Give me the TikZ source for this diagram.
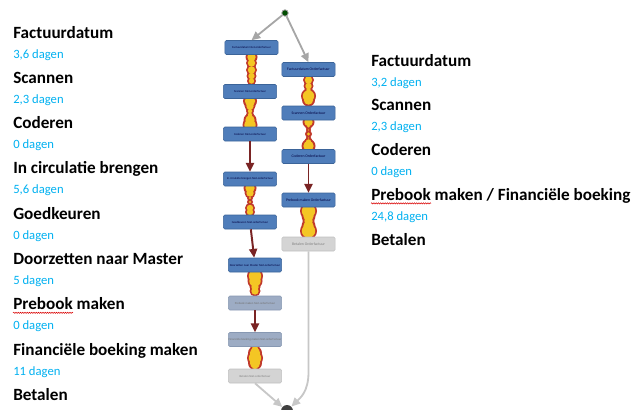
\documentclass[tikz,border=0pt]{standalone}
\usepackage{fontspec}
\setmainfont{Carlito}
\usepackage{tikz}
\usetikzlibrary{calc, positioning, arrows.meta, decorations.pathmorphing}

\definecolor{actblue}{HTML}{4F7DBA}
\definecolor{actblueb}{HTML}{3B6499}
\definecolor{actgrey}{HTML}{9DACC4}
\definecolor{actgreyb}{HTML}{8798B2}
\definecolor{actlight}{HTML}{D4D4D4}
\definecolor{actlightb}{HTML}{C0C0C0}
\definecolor{bnred}{HTML}{C0392B}
\definecolor{bnyellow}{HTML}{F4C624}
\definecolor{flowred}{HTML}{7A2424}
\definecolor{durblue}{HTML}{00B0F0}

% bottleneck: red circles first, yellow on top
\newcommand{\bottleneck}[2]{%
  \foreach \yy/\rr in {#2} \fill[bnred] (#1,\yy) circle (\rr);
  \foreach \yy/\rr in {#2} \fill[bnyellow] (#1,\yy) circle ({\rr-1.8});
}

\begin{document}
\begin{tikzpicture}[x=0.025cm, y=-0.025cm,
  head/.style={anchor=base west, inner sep=0pt, font=\fontsize{12.2}{14}\selectfont\bfseries},
  dur/.style={anchor=base west, inner sep=0pt, font=\fontsize{9}{11}\selectfont, text=durblue},
  act/.style={draw=actblueb, fill=actblue, rounded corners=1pt, minimum width=1.33cm, minimum height=0.35cm, inner sep=0pt, text=blue!25!black, font=\fontsize{2.1}{3}\selectfont},
  actr/.style={act, font=\fontsize{2.7}{3}\selectfont},
  actg/.style={act, draw=actgreyb, fill=actgrey, text=black!55},
  actl/.style={act, draw=actlightb, fill=actlight, text=black!50},
  flow/.style={-{Triangle[length=2.2mm, width=2mm]}, flowred, line width=1.4pt},
  gflow/.style={-{Triangle[length=2.2mm, width=2mm]}, black!35, line width=1.3pt},
  wave/.style={red!85!black, line width=0.35pt, decorate, decoration={snake, amplitude=0.45pt, segment length=1.6pt}}
]
\useasboundingbox (0,0) rectangle (635,409);

% left list
\foreach \t [count=\i] in {Factuurdatum, Scannen, Coderen, In circulatie brengen, Goedkeuren, Doorzetten naar Master, Prebook maken, Financiële boeking maken, Betalen}
  \node[head] (lh\i) at (13,{38+(\i-1)*45.3}) {\t};
\foreach \t [count=\i] in {{3,6 dagen}, {2,3 dagen}, 0 dagen, {5,6 dagen}, 0 dagen, 5 dagen, 0 dagen, 11 dagen}
  \node[dur] (ld\i) at (13,{58+(\i-1)*45.3}) {\t};

% right list
\foreach \t [count=\i] in {Factuurdatum, Scannen, Coderen, Prebook maken / Financiële boeking, Betalen}
  \node[head] (rh\i) at (371,{66+(\i-1)*44.8}) {\t};
\foreach \t [count=\i] in {{3,2 dagen}, {2,3 dagen}, 0 dagen, {24,8 dagen}}
  \node[dur] (rd\i) at (371,{86+(\i-1)*44.8}) {\t};

% spelling marks
\draw[wave] ($(lh7.base west)+(0,3)$) -- ++(60,0);
\draw[wave] ($(rh4.base west)+(0,3)$) -- ++(60,0);

% bottlenecks
\bottleneck{251.5}{57/6, 63/5.5, 70/5.5, 76/5, 81/4.5}
\bottleneck{250}{101/7, 106/5.5, 111/4, 115/4, 120/6.5, 125/7.5}
\bottleneck{250}{188/6.5, 193/5.5, 198/3, 202/3, 208/5, 212/5}
\bottleneck{255}{276/8, 281/7.5, 287/5.5, 291/5.5}
\bottleneck{255}{349/5, 353/7, 358/8, 363/7, 366/5}
\bottleneck{308.5}{80/5.5, 86/5, 90/4, 96/7.5, 100/6.5}
\bottleneck{308.5}{122/6, 126/3.5, 130/2.5, 134/3.5, 138/2.5, 142/4.5, 146/7}
\bottleneck{308.5}{211/8.5, 216/7, 221/6, 226/7, 231/8.5}

% activities
\node[act] (lb1) at (251.5,47.5) {Factuurdatum Niet-orderfactuur};
\node[act] (lb2) at (250,91.5) {Scannen Niet-orderfactuur};
\node[act] (lb3) at (250,134) {Coderen Niet-orderfactuur};
\node[act] (lb4) at (250,179) {In circulatie brengen Niet-orderfactuur};
\node[act] (lb5) at (250,222) {Goedkeuren Niet-orderfactuur};
\node[act] (lb6) at (255,265) {Doorzetten naar Master Niet-orderfactuur};
\node[actg] (lb7) at (255,303) {Prebook maken Niet-orderfactuur};
\node[actg] (lb8) at (255,339.5) {Financiële boeking maken Niet-orderfactuur};
\node[actl] (lb9) at (255,376) {Betalen Niet-orderfactuur};

\node[actr] (rb1) at (308.5,69.5) {Factuurdatum Orderfactuur};
\node[actr] (rb2) at (308.5,113) {Scannen Orderfactuur};
\node[actr] (rb3) at (308.5,156.5) {Coderen Orderfactuur};
\node[actr] (rb4) at (308.5,200) {Prebook maken Orderfactuur};
\node[actr, draw=actlightb, fill=actlight, text=black!50] (rb5) at (308.5,244) {Betalen Orderfactuur};

% start / end
\node[circle, fill=green!30!black, draw=black!40, line width=0.6pt, minimum size=0.16cm, inner sep=0pt] (start) at (285,13) {};
\node[circle, fill=black!75, minimum size=0.3cm, inner sep=0pt] (stop) at (287,411) {};
\coordinate (rbend) at (308.5,372);

% flows
\draw[gflow] (start) -- (lb1.north);
\draw[gflow] (start) -- (rb1.north);
\draw[flow] (lb3) -- (lb4);
\draw[flow] (lb5) -- (lb6);
\draw[flow] (lb7) -- (lb8);
\draw[flow] (rb3) -- (rb4);
\draw[gflow, black!22] (lb9.south) -- (stop);
\draw[gflow, black!22] (rb5.south) -- (rbend) .. controls (308.5,392) and (300,398) .. (stop);
\end{tikzpicture}
\end{document}
